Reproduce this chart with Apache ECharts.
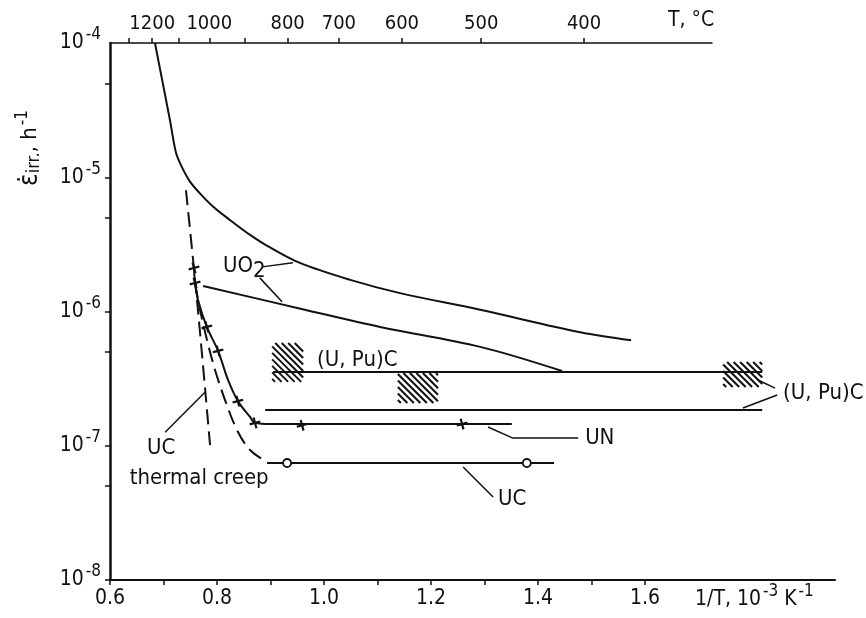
<!DOCTYPE html>
<html>
<head>
<meta charset="utf-8">
<script src="https://cdn.jsdelivr.net/npm/echarts@6/dist/echarts.min.js"></script>
<style>
html, body { margin: 0; padding: 0; background: #fff; }
#chart { width: 866px; height: 618px; }
</style>
</head>
<body>
<div id="chart"></div>
<script>
const FONT = '"Liberation Sans Narrow", "DejaVu Sans Condensed", "Roboto", sans-serif';
const INK = '#111';

// axes
const xTicks = [0.6, 0.7, 0.8, 0.9, 1.0, 1.1, 1.2, 1.3, 1.4, 1.5, 1.6];
const xLabels = [0.6, 0.8, 1.0, 1.2, 1.4, 1.6];
const yTicks = [1e-8, 5e-8, 1e-7, 5e-7, 1e-6, 5e-6, 1e-5, 5e-5, 1e-4];
const tempTicks = [1300, 1200, 1100, 1000, 900, 800, 700, 600, 500, 400];
const tempLabels = [1200, 1000, 800, 700, 600, 500, 400];

// UO2 (upper and lower curves)
const uo2UpX = [0.684, 0.712, 0.7234, 0.734, 0.7495, 0.768, 0.793, 0.824, 0.8617, 0.893, 0.955, 1.049, 1.142, 1.292, 1.479, 1.574];
const uo2UpY = [1.0e-4, 2.67e-5, 1.52e-5, 1.20e-5, 9.27e-6, 7.59e-6, 6.03e-6, 4.81e-6, 3.72e-6, 3.10e-6, 2.30e-6, 1.72e-6, 1.37e-6, 1.03e-6, 7.0e-7, 6.1e-7];
const uo2LoX = [0.774, 0.960, 1.105, 1.292, 1.445];
const uo2LoY = [1.55e-6, 1.04e-6, 7.67e-7, 5.45e-7, 3.6e-7];

// (U,Pu)C
const upcUpX = [0.905, 1.819];
const upcUpY = [3.54e-7, 3.54e-7];
const upcLoX = [0.890, 1.819];
const upcLoY = [1.85e-7, 1.85e-7];
// hatched ranges: x0, x1, y0, y1
const hatchBoxes = [
  [0.903, 0.961, 2.99e-7, 5.83e-7],
  [1.138, 1.213, 2.08e-7, 3.48e-7],
  [1.746, 1.819, 2.74e-7, 4.21e-7]
];

// UN
const unX = [0.757, 0.759, 0.7645, 0.781, 0.802, 0.8206, 0.839, 0.8617, 0.871, 0.90, 1.351];
const unY = [2.11e-6, 1.63e-6, 1.22e-6, 7.67e-7, 5.09e-7, 3.09e-7, 2.15e-7, 1.64e-7, 1.48e-7, 1.45e-7, 1.45e-7];
const unMarkX = [0.757, 0.759, 0.781, 0.802, 0.839, 0.871, 0.959, 1.258];
const unMarkY = [2.11e-6, 1.63e-6, 7.67e-7, 5.09e-7, 2.15e-7, 1.48e-7, 1.42e-7, 1.45e-7];

// UC
const ucIrrX = [0.7589, 0.7682, 0.7813, 0.7963, 0.8150, 0.8374, 0.8617, 0.8935];
const ucIrrY = [1.63e-6, 1.03e-6, 6.14e-7, 3.67e-7, 2.19e-7, 1.31e-7, 9.29e-8, 7.57e-8];
const ucX = [0.8935, 1.430];
const ucY = [7.44e-8, 7.44e-8];
const ucMarkX = [0.931, 1.379];
const ucMarkY = [7.44e-8, 7.44e-8];
const ucThermX = [0.742, 0.7626, 0.787];
const ucThermY = [8.0e-6, 1.22e-6, 1.01e-7];

// annotations
const notes = [
  { text: '{n|UO}{sub|2}', x: 0.811, y: 2.18e-6 },
  { text: '{n|(U, Pu)C}', x: 0.987, y: 4.35e-7 },
  { text: '{n|(U, Pu)C}', x: 1.858, y: 2.47e-7 },
  { text: '{n|UN}', x: 1.488, y: 1.14e-7 },
  { text: '{n|UC}', x: 1.325, y: 4.0e-8 },
  { text: '{n|UC}', x: 0.669, y: 9.6e-8 },
  { text: '{n|thermal creep}', x: 0.637, y: 5.75e-8 }
];
const leaders = [
  [[0.884, 2.15e-6], [0.942, 2.31e-6]],
  [[0.880, 1.78e-6], [0.9215, 1.18e-6]],
  [[1.843, 2.69e-7], [1.811, 3.09e-7]],
  [[1.847, 2.39e-7], [1.783, 1.91e-7]],
  [[1.3065, 1.38e-7], [1.353, 1.14e-7], [1.475, 1.14e-7]],
  [[1.260, 6.95e-8], [1.316, 4.15e-8]],
  [[0.703, 1.26e-7], [0.778, 2.51e-7]]
];

function pairs(xs, ys) {
  return xs.map((x, i) => [x, ys[i]]);
}

function curve(xs, ys, dashed) {
  return {
    type: 'line',
    data: pairs(xs, ys),
    showSymbol: false,
    smooth: 0.35,
    lineStyle: { color: INK, width: 2, type: dashed ? [15, 7] : 'solid' },
    z: 3
  };
}

const plus = 'path://M4,0H6V4H10V6H6V10H4V6H0V4H4Z';

const chart = echarts.init(document.getElementById('chart'), null, { renderer: 'canvas' });

const series = [
  curve(uo2UpX, uo2UpY),
  curve(uo2LoX, uo2LoY),
  curve(upcUpX, upcUpY),
  curve(upcLoX, upcLoY),
  curve(unX, unY),
  curve(ucIrrX, ucIrrY, true),
  curve(ucX, ucY),
  curve(ucThermX, ucThermY, true),
  {
    type: 'scatter',
    data: pairs(unMarkX, unMarkY),
    symbol: plus,
    symbolSize: 11,
    symbolRotate: 15,
    itemStyle: { color: INK, opacity: 1 },
    z: 4
  },
  {
    type: 'scatter',
    data: pairs(ucMarkX, ucMarkY),
    symbol: 'circle',
    symbolSize: 8,
    itemStyle: { color: '#fff', borderColor: INK, borderWidth: 1.8, opacity: 1 },
    z: 4
  },
  {
    type: 'custom',
    data: hatchBoxes,
    encode: { x: [0, 1], y: [2, 3] },
    renderItem: (params, api) => {
      const a = api.coord([api.value(0), api.value(3)]);
      const b = api.coord([api.value(1), api.value(2)]);
      const x = a[0], y = a[1], w = b[0] - a[0], h = b[1] - a[1];
      const children = [];
      for (let c = -h + 3; c < w - 2; c += 6.5) {
        const x1 = c >= 0 ? x + c : x;
        const y1 = c >= 0 ? y : y - c;
        const x2 = c + h <= w ? x + c + h : x + w;
        const y2 = c + h <= w ? y + h : y + w - c;
        children.push({
          type: 'line',
          shape: { x1: x1, y1: y1, x2: x2, y2: y2 },
          style: { stroke: INK, lineWidth: 2 }
        });
      }
      return { type: 'group', children: children };
    },
    z: 2
  },
  {
    type: 'scatter',
    data: notes.map(n => ({ value: [n.x, n.y], text: n.text })),
    symbolSize: 0,
    itemStyle: { opacity: 1 },
    label: {
      show: true,
      position: 'right',
      distance: 0,
      color: INK,
      formatter: p => p.data.text,
      rich: {
        n: { fontFamily: FONT, fontSize: 22, color: INK },
        sub: { fontFamily: FONT, fontSize: 22, color: INK, padding: [10, 0, 0, 0] }
      }
    },
    emphasis: { disabled: true },
    z: 5
  }
];

leaders.forEach(pts => {
  series.push({
    type: 'line',
    data: pts,
    showSymbol: false,
    lineStyle: { color: INK, width: 1.5 },
    z: 3
  });
});

const supRich = {
  b: { fontFamily: FONT, fontSize: 21, color: INK },
  s: { fontFamily: FONT, fontSize: 17, color: INK, padding: [0, 0, 16, 2] }
};

chart.setOption({
  animation: false,
  backgroundColor: '#fff',
  grid: [
    { left: 110, right: 31, top: 43, bottom: 38 },
    { left: 110, right: 154, top: 43, height: 1 }
  ],
  xAxis: [
    {
      type: 'value',
      gridIndex: 0,
      min: 0.6,
      max: 1.955,
      splitLine: { show: false },
      axisLine: { onZero: false, lineStyle: { color: INK, width: 2 } },
      axisTick: { customValues: xTicks, length: 5, lineStyle: { color: INK, width: 1.5 } },
      axisLabel: {
        customValues: xLabels,
        formatter: v => v.toFixed(1),
        fontFamily: FONT, fontSize: 21, color: INK, margin: 8
      }
    },
    {
      type: 'value',
      gridIndex: 1,
      position: 'top',
      min: 0.6,
      max: 1.725,
      splitLine: { show: false },
      axisLine: { onZero: false, lineStyle: { color: INK, width: 1.5 } },
      axisTick: {
        customValues: tempTicks.map(t => 1000 / (t + 273)),
        length: 5,
        lineStyle: { color: INK, width: 1.5 }
      },
      axisLabel: {
        customValues: tempLabels.map(t => 1000 / (t + 273)),
        formatter: v => String(Math.round(1000 / v - 273)),
        fontFamily: FONT, fontSize: 20, color: INK, margin: 9
      }
    }
  ],
  yAxis: [
    {
      type: 'log',
      gridIndex: 0,
      logBase: 10,
      min: 1e-8,
      max: 1e-4,
      splitLine: { show: false },
      axisLine: { onZero: false, lineStyle: { color: INK, width: 2.5 } },
      axisTick: { customValues: yTicks, length: 5, lineStyle: { color: INK, width: 1.5 } },
      axisLabel: {
        formatter: v => '{b|10}{s|-' + Math.round(-Math.log10(v)) + '}',
        rich: supRich,
        margin: 9
      }
    },
    { type: 'value', gridIndex: 1, show: false }
  ],
  graphic: [
    {
      type: 'text',
      x: 30, y: 148,
      rotation: Math.PI / 2,
      style: {
        text: '{e|ε̇}{i|irr.}{b|, h}{s|-1}',
        align: 'center',
        verticalAlign: 'middle',
        rich: {
          e: { fontFamily: FONT, fontSize: 26, fill: INK },
          i: { fontFamily: FONT, fontSize: 18, fill: INK, padding: [8, 0, 0, 0] },
          b: { fontFamily: FONT, fontSize: 22, fill: INK },
          s: { fontFamily: FONT, fontSize: 17, fill: INK, padding: [0, 0, 14, 2] }
        }
      }
    },
    {
      type: 'text',
      x: 695, y: 600,
      style: {
        text: '{b|1/T, 10}{s|-3}{b| K}{s|-1}',
        verticalAlign: 'middle',
        rich: {
          b: { fontFamily: FONT, fontSize: 21, fill: INK },
          s: { fontFamily: FONT, fontSize: 17, fill: INK, padding: [0, 0, 16, 2] }
        }
      }
    },
    {
      type: 'text',
      x: 668, y: 21,
      style: {
        text: 'T, °C',
        verticalAlign: 'middle',
        fontFamily: FONT, fontSize: 21, fill: INK
      }
    }
  ],
  series: series
});
</script>
</body>
</html>
